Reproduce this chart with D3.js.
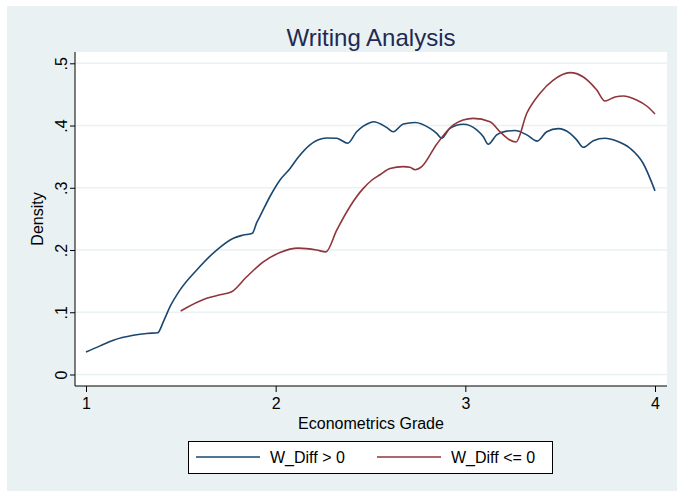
<!DOCTYPE html>
<html>
<head>
<meta charset="utf-8">
<script src="https://cdn.jsdelivr.net/npm/d3@7"></script>
<style>
  body { margin: 0; background: #fff; }
  text { font-family: "Liberation Sans", Arial, sans-serif; }
</style>
</head>
<body>
<div id="chart"></div>
<script>
// grade values (x) and density (y)
var gradeBlue = [1.0, 1.074, 1.144, 1.249, 1.32, 1.378, 1.408, 1.443, 1.496, 1.584, 1.689, 1.777, 1.829, 1.877,
  1.9, 1.917, 1.97, 2.023, 2.076, 2.119, 2.181, 2.225, 2.269, 2.322, 2.38, 2.427, 2.462, 2.497, 2.515,
  2.585, 2.62, 2.673, 2.735, 2.814, 2.849, 2.875, 2.919, 2.989, 3.06, 3.095, 3.121, 3.165, 3.218, 3.262,
  3.324, 3.379, 3.429, 3.49, 3.552, 3.587, 3.622, 3.675, 3.736, 3.798, 3.868, 3.938, 4.0];
var densBlue = [0.036, 0.046, 0.055, 0.063, 0.066, 0.067, 0.085, 0.109, 0.136, 0.168, 0.200, 0.219, 0.224, 0.227,
  0.244, 0.254, 0.286, 0.3125, 0.331, 0.349, 0.369, 0.377, 0.380, 0.3795, 0.3715, 0.390, 0.399, 0.4045, 0.406,
  0.397, 0.390, 0.4025, 0.405, 0.3955, 0.3875, 0.3795, 0.3955, 0.402, 0.393, 0.382, 0.370, 0.385, 0.391, 0.392,
  0.385, 0.375, 0.390, 0.395, 0.3875, 0.377, 0.365, 0.3757, 0.3795, 0.375, 0.3635, 0.339, 0.295];

var gradeRed = [1.499, 1.636, 1.706, 1.768, 1.847, 1.935, 2.023, 2.119, 2.216, 2.265, 2.322, 2.392, 2.462, 2.508,
  2.55, 2.603, 2.673, 2.708, 2.735, 2.77, 2.849, 2.937, 2.988, 3.042, 3.13, 3.183, 3.23, 3.267,
  3.324, 3.394, 3.464, 3.552, 3.622, 3.693, 3.736, 3.789, 3.833, 3.903, 3.958, 4.0];
var densRed = [0.102, 0.1224, 0.128, 0.133, 0.157, 0.181, 0.196, 0.203, 0.200, 0.197, 0.232, 0.27, 0.299, 0.3125,
  0.321, 0.331, 0.334, 0.333, 0.329, 0.334, 0.370, 0.401, 0.409, 0.4115, 0.406, 0.390, 0.3775, 0.3735,
  0.4197, 0.452, 0.473, 0.485, 0.478, 0.457, 0.4394, 0.446, 0.4475, 0.441, 0.431, 0.4185];

var xTicks = [1, 2, 3, 4];
var yTicks = [0, 0.1, 0.2, 0.3, 0.4, 0.5];
var yTickLabels = ["0", ".1", ".2", ".3", ".4", ".5"];
var seriesNames = ["W_Diff > 0", "W_Diff <= 0"];
var seriesColors = ["#1a476f", "#90353b"];

var width = 677, height = 491;
var bg = "#e9f1f3";

var svg = d3.select('#chart')
  .append('svg')
  .attr('width', width)
  .attr('height', height);

// graph region
svg.append('rect')
  .attr('x', 7).attr('y', 6)
  .attr('width', width - 7).attr('height', height - 6)
  .attr('fill', bg);

var plot = { left: 75, right: 667, top: 52, bottom: 386 };

var x = d3.scaleLinear().domain([1, 4]).range([86, 655]);
var y = d3.scaleLinear().domain([0, 0.5]).range([374.5, 63.3]);

svg.append('rect')
  .attr('x', plot.left).attr('y', plot.top)
  .attr('width', plot.right - plot.left).attr('height', plot.bottom - plot.top)
  .attr('fill', '#fff');

// grid
svg.append('g').selectAll('line')
  .data(yTicks)
  .enter().append('line')
  .attr('x1', plot.left).attr('x2', plot.right)
  .attr('y1', function(d) { return y(d); })
  .attr('y2', function(d) { return y(d); })
  .attr('stroke', bg)
  .attr('stroke-width', 1.5);

// y axis
var yAxis = d3.axisLeft(y)
  .tickValues(yTicks)
  .tickSize(5)
  .tickSizeOuter(0)
  .tickFormat(function(d, i) { return yTickLabels[i]; });

var gy = svg.append('g')
  .attr('transform', 'translate(' + plot.left + ',0)')
  .call(yAxis);
gy.select('.domain').attr('d', 'M0,' + plot.top + 'V' + plot.bottom).attr('stroke', '#000');
gy.selectAll('.tick line').attr('stroke', '#000');
gy.selectAll('.tick text')
  .attr('font-size', 16)
  .attr('fill', '#000')
  .attr('text-anchor', 'middle')
  .attr('x', 0)
  .attr('y', 0)
  .attr('dy', 0)
  .attr('transform', 'translate(-8,0) rotate(-90)');

// x axis
var xAxis = d3.axisBottom(x)
  .tickValues(xTicks)
  .tickSize(6)
  .tickSizeOuter(0)
  .tickFormat(d3.format('d'));

var gx = svg.append('g')
  .attr('transform', 'translate(0,' + plot.bottom + ')')
  .call(xAxis);
gx.select('.domain').attr('d', 'M' + plot.left + ',0H' + plot.right).attr('stroke', '#000');
gx.selectAll('.tick line').attr('stroke', '#000');
gx.selectAll('.tick text')
  .attr('font-size', 16)
  .attr('fill', '#000')
  .attr('y', 12)
  .attr('dy', '0.71em');

// titles
svg.append('text')
  .attr('x', (plot.left + plot.right) / 2)
  .attr('y', 46)
  .attr('text-anchor', 'middle')
  .attr('font-size', 24)
  .attr('fill', '#1e2a52')
  .text('Writing Analysis');

svg.append('text')
  .attr('x', (plot.left + plot.right) / 2)
  .attr('y', 429)
  .attr('text-anchor', 'middle')
  .attr('font-size', 16)
  .text('Econometrics Grade');

svg.append('text')
  .attr('transform', 'translate(43,' + ((plot.top + plot.bottom) / 2) + ') rotate(-90)')
  .attr('text-anchor', 'middle')
  .attr('font-size', 16)
  .text('Density');

// curves
var line = d3.line()
  .x(function(d) { return x(d[0]); })
  .y(function(d) { return y(d[1]); })
  .curve(d3.curveMonotoneX);

var series = [d3.zip(gradeBlue, densBlue), d3.zip(gradeRed, densRed)];

svg.append('g').selectAll('path')
  .data(series)
  .enter().append('path')
  .attr('d', line)
  .attr('fill', 'none')
  .attr('stroke', function(d, i) { return seriesColors[i]; })
  .attr('stroke-width', 1.6);

// legend
var legend = svg.append('g');
legend.append('rect')
  .attr('x', 188.5).attr('y', 441.5)
  .attr('width', 364).attr('height', 32)
  .attr('fill', '#fff')
  .attr('stroke', '#000');

var items = legend.selectAll('.item')
  .data(seriesNames)
  .enter().append('g')
  .attr('transform', function(d, i) { return 'translate(' + (196 + i * 181) + ',457)'; });

items.append('line')
  .attr('x1', 0).attr('x2', 64)
  .attr('stroke', function(d, i) { return seriesColors[i]; })
  .attr('stroke-width', 1.6);

items.append('text')
  .attr('x', 74)
  .attr('dy', '0.36em')
  .attr('font-size', 16)
  .text(function(d) { return d; });
</script>
</body>
</html>
